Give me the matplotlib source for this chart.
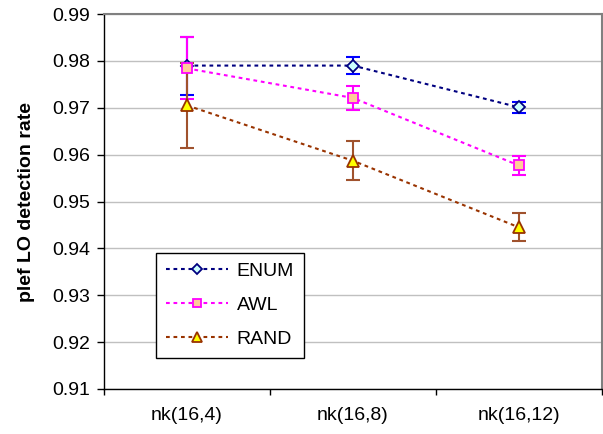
import numpy as np
import matplotlib.pyplot as plt

plt.rcParams['font.family'] = ['Liberation Sans', 'DejaVu Sans']

categories = ['nk(16,4)', 'nk(16,8)', 'nk(16,12)']
enum_rate = [0.9790, 0.9790, 0.9701]
enum_err = [0.0062, 0.0019, 0.0012]
awl_rate = [0.9784, 0.9721, 0.9577]
awl_err = [0.0066, 0.0026, 0.0021]
rand_rate = [0.9705, 0.9587, 0.9445]
rand_err = [0.0090, 0.0042, 0.0030]

series = [
    ('ENUM', enum_rate, enum_err, '#000080', 'D', '#CCFFFF', '#0000FF', 6),
    ('AWL', awl_rate, awl_err, '#FF00FF', 's', '#FFCC99', '#FF00FF', 7.5),
    ('RAND', rand_rate, rand_err, '#993300', '^', '#FFFF00', '#A0522D', 8.5),
]

fig = plt.figure(figsize=(6.03, 4.34), dpi=100)
ax = fig.add_axes([0.1725, 0.1037, 0.8255, 0.864])

x = np.arange(len(categories))
handles = []
for name, vals, err, col, mk, face, ecol, ms in series:
    ax.errorbar(x, vals, yerr=err, fmt='none', ecolor=ecol, elinewidth=1.5,
                capsize=4.7, capthick=1.5, zorder=3)
    h, = ax.plot(x, vals, linestyle=(0, (1.8, 1.8)), color=col, lw=1.5,
                 marker=mk, markersize=ms, markerfacecolor=face,
                 markeredgecolor=col, markeredgewidth=1.3, label=name, zorder=4)
    handles.append(h)

ax.set_xlim(-0.5, 2.5)
ax.set_ylim(0.91, 0.99)
yt = np.arange(0.91, 0.9901, 0.01)
ax.set_yticks(yt)
ax.set_yticklabels([f'{v:.2f}' for v in yt])
ax.yaxis.grid(True, color='#C0C0C0', lw=1)
ax.set_axisbelow(True)

# category boundaries get the tick marks, names sit between them
ax.set_xticks([-0.5, 0.5, 1.5, 2.5])
ax.set_xticklabels([])
ax.set_xticks(x, minor=True)
ax.set_xticklabels(categories, minor=True)
ax.tick_params(axis='x', which='major', direction='out', length=4, width=1, color='black')
ax.tick_params(axis='x', which='minor', length=0, pad=13, labelsize=14)
ax.tick_params(axis='y', direction='out', length=5, width=1, pad=5, labelsize=14)

for side in ['left', 'bottom']:
    ax.spines[side].set_color('black')
    ax.spines[side].set_linewidth(1)
for side in ['top', 'right']:
    ax.spines[side].set_color('#808080')
    ax.spines[side].set_linewidth(1.5)

ax.set_ylabel('plef LO detection rate', fontsize=14, fontweight='bold', labelpad=12)

leg = ax.legend(handles=handles, loc='lower left', bbox_to_anchor=(0.104, 0.083),
                borderaxespad=0, fancybox=False, framealpha=1, edgecolor='black',
                fontsize=14, handlelength=3.2, numpoints=1, labelspacing=0.85,
                borderpad=0.5, handletextpad=0.45, markerscale=0.85)
leg.get_frame().set_linewidth(1)

fig.savefig('out.png', dpi=100)
